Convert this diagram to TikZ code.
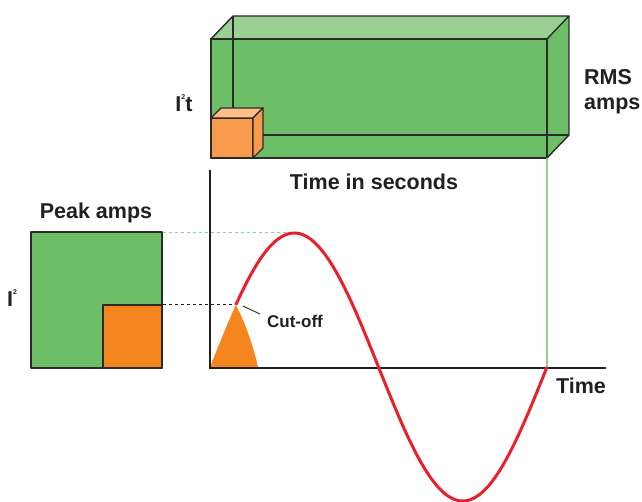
\documentclass[tikz,border=0pt]{standalone}
\usepackage{fontspec}
\setmainfont{Liberation Sans}
\usepackage{tikz}
\usepackage{xcolor}
\usetikzlibrary{arrows.meta, positioning}
\definecolor{boxgreen}{HTML}{6DBF67}
\definecolor{topgreen}{HTML}{9AD092}
\definecolor{linegreen}{HTML}{8FD08A}
\definecolor{cubeorange}{HTML}{F99B4D}
\definecolor{cubetop}{HTML}{FDBF8A}
\definecolor{sqorange}{HTML}{F5861F}
\definecolor{wavered}{HTML}{E8202A}
\definecolor{edge}{HTML}{2B2A29}
\definecolor{ink}{HTML}{231F20}
\tikzstyle{lbl} = [font=\bfseries\fontsize{21.5}{25}\selectfont, text=ink, inner sep=0pt]
\tikzstyle{small} = [font=\bfseries\fontsize{17}{20}\selectfont, text=ink, inner sep=0pt]
\tikzstyle{face} = [draw=edge, line width=1.4pt, line join=round]

\begin{document}
\begin{tikzpicture}[
        x=1pt, y=-1pt,
        % Estilo para ejes y curva
        axis/.style={draw=ink, line width=2.4pt},
        wave/.style={draw=wavered, line width=3pt},
    ]
        \useasboundingbox (0,0) rectangle (642,502);

        % 1. Caja grande (RMS) en perspectiva
        \fill[boxgreen] (211,39) rectangle (547,158);
        \fill[topgreen] (211,39) -- (233,16) -- (569,16) -- (547,39) -- cycle;
        \fill[boxgreen] (547,39) -- (569,16) -- (569,135) -- (547,158) -- cycle;
        % aristas ocultas (caja transparente)
        \draw[face] (233,16) -- (233,135) -- (569,135);
        \draw[face] (211,135) -- (233,135);
        \draw[face] (211,39) rectangle (547,158);
        \draw[face] (211,39) -- (233,16) -- (569,16) -- (547,39);
        \draw[face] (569,16) -- (569,135) -- (547,158);

        % 2. Cubo pequeño (I2t)
        \draw[face, fill=cubeorange] (211,118) rectangle (253,158);
        \draw[face, fill=cubetop] (211,118) -- (221,108) -- (263,108) -- (253,118) -- cycle;
        \draw[face, fill=cubeorange] (253,118) -- (263,108) -- (263,148) -- (253,158) -- cycle;

        \node (isqt) [lbl] at (184,103) {I\raisebox{0.55em}{\fontsize{7}{8}\selectfont 2}t};
        \node (rms) [lbl, anchor=west, align=left] at (584,92) {RMS\\amps};
        \node (timesec) [lbl] at (374,182) {Time in seconds};

        % 3. Cuadrados de la izquierda (pico)
        \draw[face, fill=boxgreen] (31,232) rectangle (162,368);
        \draw[face, fill=sqorange] (103,305) rectangle (162,368);
        \node (peak) [lbl] at (96,213) {Peak amps};
        \node (isq) [lbl] at (12,298) {I\raisebox{0.55em}{\fontsize{7}{8}\selectfont 2}};

        % 4. Zona cortada bajo la curva
        \fill[sqorange] (210,367) -- plot[domain=0:27.6, samples=20] ({210+0.93611*\x},{367-134*sin(\x)})
            .. controls (245,322) and (253,345) .. (258,367) -- cycle;

        % 5. Lineas guia
        \draw[linegreen, line width=1.1pt] (547,158) -- (547,367);
        \draw[linegreen, dashed, line width=1pt] (163,233) -- (295,233);
        \draw[ink, dashed, line width=1pt] (163,305) -- (234,305);

        % 6. Ejes y onda
        \draw[axis] (210,170) -- (210,368) -- (606,368);
        \draw[wave] plot[domain=27.6:360, samples=150] ({210+0.93611*\x},{367-134*sin(\x)});
        \node (timelbl) [lbl] at (581,386) {Time};

        % 7. Etiqueta de corte
        \node (cutoff) [small] at (295,321) {Cut-off};
        \coordinate (cutpt) at (243,306);
        \draw[edge, line width=0.9pt] (cutpt) -- (260,314);
    \end{tikzpicture}
\end{document}
